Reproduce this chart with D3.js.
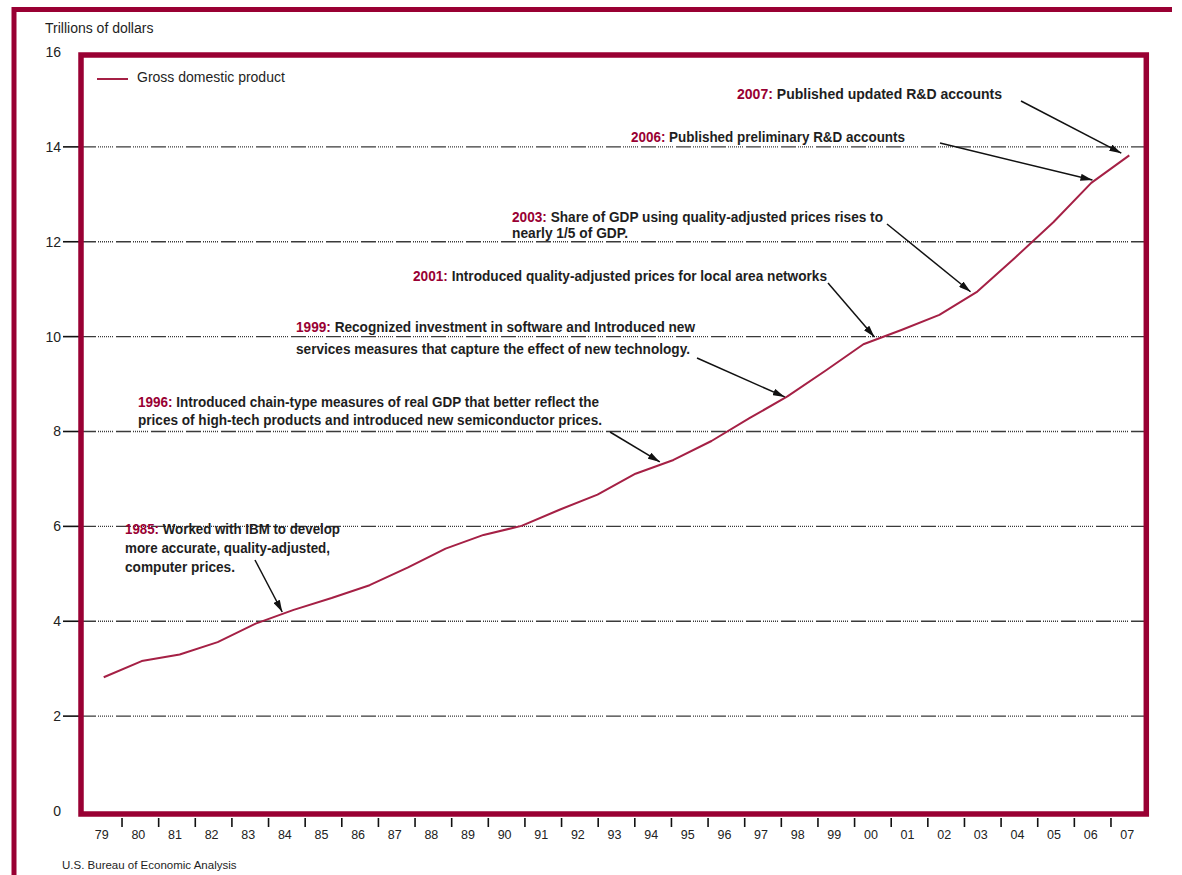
<!DOCTYPE html>
<html><head><meta charset="utf-8">
<script src="https://cdn.jsdelivr.net/npm/d3@7"></script>
<style>
html,body{margin:0;padding:0;background:#fff;}
svg{display:block;}
text{font-family:"Liberation Sans",Arial,Helvetica,sans-serif;}
</style></head><body>
<svg id="chart" width="1182" height="875"></svg>
<script>
// ---------- data ----------
const xLabels = ["79","80","81","82","83","84","85","86","87","88","89","90","91","92","93","94","95","96","97","98","99","00","01","02","03","04","05","06","07"];
const years = [1980,1981,1982,1983,1984,1985,1986,1987,1988,1989,1990,1991,1992,1993,1994,1995,1996,1997,1998,1999,2000,2001,2002,2003,2004,2005,2006,2007];
const gdp = [2.82,3.16,3.30,3.56,3.95,4.24,4.49,4.76,5.13,5.53,5.82,6.01,6.35,6.67,7.11,7.40,7.80,8.28,8.74,9.28,9.84,10.14,10.46,10.95,11.67,12.41,13.24,13.82];
const yTicks = [0,2,4,6,8,10,12,14,16];
const yTickMarks = [2,4,6,8,10,12,14];
const seriesName = "Gross domestic product";
const yTitle = "Trillions of dollars";
const sourceText = "U.S. Bureau of Economic Analysis";
const noteYears = ["1985:","1996:","1999:","2001:","2003:","2006:","2007:"];
const noteLines = [
  [" Worked with IBM to develop","more accurate, quality-adjusted,","computer prices."],
  [" Introduced chain-type measures of real GDP that better reflect the","prices of high-tech products and introduced new semiconductor prices."],
  [" Recognized investment in software and Introduced new","services measures that capture the effect of new technology."],
  [" Introduced quality-adjusted prices for local area networks"],
  [" Share of GDP using quality-adjusted prices rises to","nearly 1/5 of GDP."],
  [" Published preliminary R&D accounts"],
  [" Published updated R&D accounts"]
];
const noteTargets = [1984.7, 1994.64, 1997.93, 2000.29, 2002.82, 2006.03, 2006.79];

// ---------- layout ----------
const noteLayout = [
  {x:125, y:534, lh:19, w:[215,205,110], ax:255, ay:560, dy:2},
  {x:138, y:406.5, lh:18.5, w:[461,464], ax:610, ay:432, dy:3},
  {x:296, y:332, lh:22, w:[399,394], ax:697, ay:358, dy:1},
  {x:413, y:280.5, lh:0, w:[414], ax:828, ay:283, dy:3},
  {x:512, y:221.5, lh:16.5, w:[371,116], ax:887, ay:224, dy:4},
  {x:631, y:142, lh:0, w:[274], ax:940, ay:143, dy:2},
  {x:737, y:99, lh:0, w:[265], ax:1021, ay:101, dy:8}
];
const RED = "#990033", LINE = "#a52045", TXT = "#1e1e1e";
const frame = {l:81, t:55, r:1146.3, b:814};

const svg = d3.select("#chart");

const x = d3.scaleBand().domain(xLabels).range([85.4, 1147.6]).padding(0);
const bw = x.bandwidth();
const xLine = d3.scaleLinear().domain([years[0], years[years.length-1]])
  .range([x(xLabels[0]) + bw/2, x(xLabels[xLabels.length-1]) + bw/2]);
const y = d3.scaleLinear().domain([0,16]).range([811, 52]);

// outer frame
svg.append("path").attr("d", `M14,875 V9.5 H1172`).attr("fill","none")
  .attr("stroke", RED).attr("stroke-width", 5);

// y title
svg.append("text").attr("x", 45).attr("y", 33).attr("font-size", 14).attr("fill", TXT).text(yTitle);

// gridlines
const gridDash = "15,2,1,1,1,1,1,1,1,1,1,1,1,1,1,1,1,3";
svg.append("g").selectAll("line").data(yTickMarks).join("line")
  .attr("x1", frame.l).attr("x2", frame.r)
  .attr("y1", d => y(d)).attr("y2", d => y(d))
  .attr("stroke", "#3a3a3a").attr("stroke-width", 1.3).attr("stroke-dasharray", gridDash);

// y axis
const yAxis = d3.axisLeft(y).tickValues(yTicks).tickSize(0).tickPadding(0);
const gy = svg.append("g").attr("transform", `translate(61,0)`).call(yAxis);
gy.select(".domain").remove();
gy.selectAll("text").attr("font-size", 14).attr("fill", "#222")
  .attr("font-family", '"Liberation Sans",Arial,sans-serif');
svg.append("g").selectAll("line").data(yTickMarks).join("line")
  .attr("x1", 63).attr("x2", 79).attr("y1", d => y(d)).attr("y2", d => y(d))
  .attr("stroke", "#111").attr("stroke-width", 1.6);

// x axis labels + ticks
const xAxis = d3.axisBottom(x).tickSize(0).tickPadding(0);
const gx = svg.append("g").attr("transform", `translate(-2,827)`).call(xAxis);
gx.select(".domain").remove();
gx.selectAll("text").attr("font-size", 12.5).attr("fill", "#222").attr("dy", "0.95em")
  .attr("font-family", '"Liberation Sans",Arial,sans-serif');
svg.append("g").selectAll("line").data(xLabels.slice(1)).join("line")
  .attr("x1", d => x(d)).attr("x2", d => x(d)).attr("y1", 818).attr("y2", 827)
  .attr("stroke", "#111").attr("stroke-width", 1.6);

// GDP line
const pts = years.map((yr,i) => [xLine(yr), y(gdp[i])]);
svg.append("path").attr("d", d3.line()(pts)).attr("fill","none")
  .attr("stroke", LINE).attr("stroke-width", 2).attr("stroke-linejoin","round");

// legend
svg.append("line").attr("x1", 97).attr("x2", 128).attr("y1", 79).attr("y2", 79)
  .attr("stroke", LINE).attr("stroke-width", 2);
svg.append("text").attr("x", 137).attr("y", 82).attr("font-size", 14).attr("fill", TXT).text(seriesName);

// arrow marker
svg.append("defs").append("marker").attr("id","ah").attr("viewBox","0 0 12 7")
  .attr("refX", 12).attr("refY", 3.5).attr("markerWidth", 12).attr("markerHeight", 7)
  .attr("markerUnits","userSpaceOnUse").attr("orient","auto")
  .append("path").attr("d","M0,0 L12,3.5 L0,7 Z").attr("fill","#111");

function valueAt(t){
  const i = Math.min(Math.floor(t - years[0]), years.length-2);
  const f = (t - years[0]) - i;
  return gdp[i] + (gdp[i+1]-gdp[i]) * f;
}

// annotations
noteYears.forEach((yr, k) => {
  const L = noteLayout[k];
  const g = svg.append("g").attr("font-size", 14).attr("font-weight", "bold").attr("fill", TXT);
  noteLines[k].forEach((line, j) => {
    const t = g.append("text").attr("x", L.x).attr("y", L.y + j*L.lh)
      .attr("textLength", L.w[j]).attr("lengthAdjust", "spacingAndGlyphs");
    if (j === 0) t.append("tspan").attr("fill", RED).text(yr);
    t.append("tspan").text(line);
  });
  const tx = xLine(noteTargets[k]);
  const ty = y(valueAt(noteTargets[k])) - L.dy;
  svg.append("line").attr("x1", L.ax).attr("y1", L.ay).attr("x2", tx).attr("y2", ty)
    .attr("stroke", "#111").attr("stroke-width", 1.5).attr("marker-end", "url(#ah)");
});

// inner frame
svg.append("rect").attr("x", frame.l).attr("y", frame.t)
  .attr("width", frame.r - frame.l).attr("height", frame.b - frame.t)
  .attr("fill", "none").attr("stroke", RED).attr("stroke-width", 5.5);

// source
svg.append("text").attr("x", 62).attr("y", 869).attr("font-size", 11.5).attr("fill", TXT).text(sourceText);
</script>
</body></html>
